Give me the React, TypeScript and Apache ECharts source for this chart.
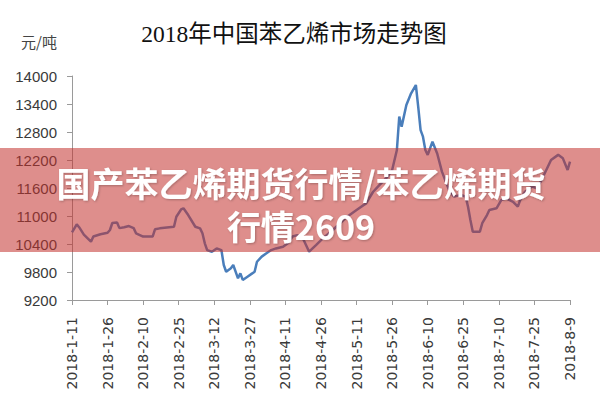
import React, { useEffect, useRef } from "react";
import * as echarts from "echarts";

const START_DATE = "2018-01-11";
const END_DATE = "2018-08-09";
const TICK_DAYS = 15;

const dates = [
  "2018-01-11", "2018-01-13", "2018-01-14", "2018-01-16", "2018-01-19", "2018-01-20",
  "2018-01-23", "2018-01-26", "2018-01-27", "2018-01-28", "2018-01-30", "2018-01-31",
  "2018-02-02", "2018-02-04", "2018-02-06", "2018-02-07", "2018-02-10", "2018-02-14",
  "2018-02-15", "2018-02-17", "2018-02-23", "2018-02-24", "2018-02-26", "2018-02-27",
  "2018-03-01", "2018-03-04", "2018-03-06", "2018-03-07", "2018-03-08", "2018-03-09",
  "2018-03-11", "2018-03-13", "2018-03-15", "2018-03-16", "2018-03-17", "2018-03-19",
  "2018-03-20", "2018-03-22", "2018-03-23", "2018-03-24", "2018-03-26", "2018-03-28",
  "2018-03-29", "2018-03-30", "2018-04-01", "2018-04-03", "2018-04-05", "2018-04-07",
  "2018-04-10", "2018-04-12", "2018-04-14", "2018-04-16", "2018-04-18", "2018-04-21",
  "2018-04-24", "2018-04-27", "2018-05-01", "2018-05-07", "2018-05-11", "2018-05-15",
  "2018-05-18", "2018-05-20", "2018-05-24", "2018-05-26", "2018-05-28", "2018-05-29",
  "2018-05-30", "2018-06-01", "2018-06-03", "2018-06-05", "2018-06-06", "2018-06-07",
  "2018-06-08", "2018-06-09", "2018-06-10", "2018-06-12", "2018-06-14", "2018-06-16",
  "2018-06-19", "2018-06-21", "2018-06-24", "2018-06-26", "2018-06-27", "2018-06-28",
  "2018-06-29", "2018-07-02", "2018-07-03", "2018-07-05", "2018-07-06", "2018-07-09",
  "2018-07-11", "2018-07-13", "2018-07-16", "2018-07-18", "2018-07-19", "2018-07-21",
  "2018-07-24", "2018-07-26", "2018-07-28", "2018-07-30", "2018-08-01", "2018-08-04",
  "2018-08-06", "2018-08-08", "2018-08-09",
];

const prices = [
  10650, 10820, 10760, 10600, 10450, 10560,
  10610, 10640, 10700, 10850, 10860, 10740,
  10760, 10785, 10740, 10630, 10560, 10560,
  10715, 10735, 10770, 10985, 11140, 11165,
  11020, 10770, 10735, 10630, 10415, 10270,
  10235, 10305, 10270, 9950, 9806, 9880,
  9950, 9665, 9772, 9630, 9700, 9770,
  9806, 10020, 10130, 10200, 10270, 10305,
  10340, 10415, 10560, 10590, 10560, 10235,
  10380, 10530, 10700, 10985, 11130, 11270,
  11520, 11630, 11840, 11985, 12415, 13130,
  12915, 13380, 13630, 13807, 13340, 12840,
  12700, 12415, 12310, 12590, 12340, 11950,
  11555, 11415, 11450, 11415, 11200, 10915,
  10665, 10665, 10845, 11020, 11130, 11165,
  11340, 11380, 11305, 11200, 11340, 11520,
  11630, 11595, 11770, 11985, 12200, 12310,
  12235, 11985, 12165,
];

const Y_MIN = 9200;
const Y_MAX = 14000;
const Y_STEP = 600;

const TITLE = "2018年中国苯乙烯市场走势图";
const UNIT = "元/吨";
const BANNER = "国产苯乙烯期货行情/苯乙烯期货\n行情2609";

const DAY_MS = 86400000;
const startMs = Date.parse(START_DATE + "T00:00:00Z");
const dayOf = (s: string) => Math.round((Date.parse(s + "T00:00:00Z") - startMs) / DAY_MS);
const fmtDay = (v: number) => {
  const d = new Date(startMs + v * DAY_MS);
  return `${d.getUTCFullYear()}-${d.getUTCMonth() + 1}-${d.getUTCDate()}`;
};

export default function App() {
  const ref = useRef<HTMLDivElement>(null);
  useEffect(() => {
    if (!ref.current) return;
    const chart = echarts.init(ref.current, null, { renderer: "svg" });
    const data = dates.map((d, i) => [dayOf(d), prices[i]]);
    chart.setOption({
      animation: false,
      backgroundColor: "#ffffff",
      grid: { left: 72, right: 30, top: 76, bottom: 100, containLabel: false },
      xAxis: {
        type: "value",
        min: 0,
        max: dayOf(END_DATE),
        interval: TICK_DAYS,
        axisLine: { show: true, lineStyle: { color: "#9a9a9a", width: 1 } },
        axisTick: { show: true, length: 5, lineStyle: { color: "#9a9a9a" } },
        splitLine: { show: false },
        axisLabel: {
          rotate: 90,
          margin: 17,
          fontSize: 14,
          fontFamily: "DejaVu Sans",
          color: "#3a3a3a",
          formatter: (v: number) => fmtDay(v),
        },
      },
      yAxis: {
        type: "value",
        min: Y_MIN,
        max: Y_MAX,
        interval: Y_STEP,
        axisLine: { show: true, lineStyle: { color: "#9a9a9a", width: 1 } },
        axisTick: { show: true, length: 5, lineStyle: { color: "#9a9a9a" } },
        splitLine: { show: false },
        axisLabel: {
          margin: 15,
          fontSize: 15,
          fontFamily: "Liberation Sans",
          color: "#3a3a3a",
          formatter: (v: number) => String(v),
        },
      },
      series: [
        {
          type: "line",
          data,
          showSymbol: false,
          symbol: "none",
          lineStyle: { color: "#4a7ebb", width: 2.5 },
          z: 2,
        },
      ],
      graphic: [
        {
          type: "text",
          x: 294,
          y: 34,
          z: 10,
          style: {
            text: TITLE,
            fontSize: 23.5,
            fontFamily: "'Liberation Serif', 'Noto Sans CJK SC'",
            fill: "#111111",
            textAlign: "center",
            textVerticalAlign: "middle",
          },
        },
        {
          type: "text",
          x: 39,
          y: 41,
          z: 10,
          style: {
            text: UNIT,
            fontSize: 15,
            fontFamily: "'Noto Sans CJK SC'",
            fill: "#444444",
            textAlign: "center",
            textVerticalAlign: "middle",
          },
        },
        {
          type: "rect",
          z: 100,
          shape: { x: 0, y: 148, width: 600, height: 104 },
          style: { fill: "rgba(195,50,45,0.55)" },
        },
        {
          type: "text",
          x: 301,
          y: 204,
          z: 101,
          style: {
            text: BANNER,
            fontSize: 34,
            lineHeight: 43,
            fontWeight: "bold",
            fontFamily: "'Noto Sans CJK SC'",
            fill: "#ffffff",
            textAlign: "center",
            textVerticalAlign: "middle",
            textShadowColor: "rgba(0,0,0,0.25)",
            textShadowBlur: 2,
            textShadowOffsetX: 1,
            textShadowOffsetY: 1,
          },
        },
      ],
    });
    return () => chart.dispose();
  }, []);
  return (
    <div
      ref={ref}
      style={{ position: "fixed", left: 0, top: 0, width: 600, height: 400 }}
    />
  );
}
